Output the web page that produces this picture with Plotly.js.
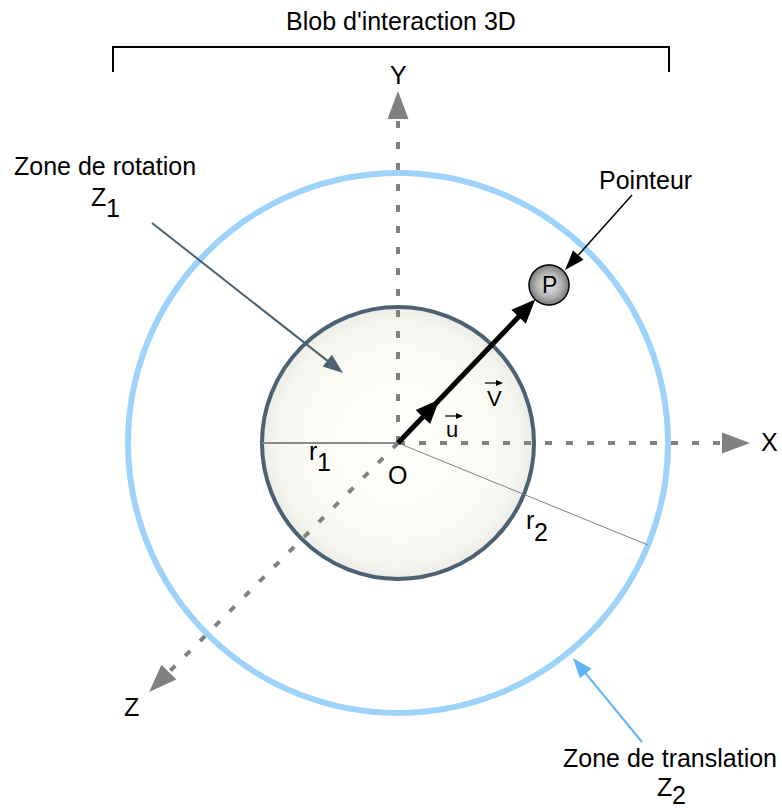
<!DOCTYPE html>
<html>
<head>
<meta charset="utf-8">
<script src="https://cdn.plot.ly/plotly-3.0.1.min.js"></script>
<style>html,body{margin:0;padding:0;background:#fff;}#chart{width:782px;height:808px;}</style>
</head>
<body>
<div id="chart"></div>
<script>
// ---- data (diagram units, origin O, y up) ----
const titleText = "Blob d'interaction 3D";
const zoneNames = ['Zone de rotation', 'Zone de translation'];
const zoneSymbols = ['Z', 'Z'];
const zoneSubs = ['1', '2'];
const zoneRadii = [136, 270];          // r1, r2
const radiusNames = ['r', 'r'];
const radiusSubs = ['1', '2'];
const radiusAngles = [180, -22.2];     // direction of each drawn radius (deg)
const axisNames = ['X', 'Y', 'Z'];
const axisAngles = [0, 90, 225];       // deg
const axisLengths = [352, 352, 352];
const originName = 'O';
const pointerName = 'Pointeur';
const pointerLetter = 'P';
const pointerPolar = [218.6, 46.3];    // distance, angle of P from O
const vectorNames = ['u', 'V'];
const unitVectorLength = [60];

// ---- helpers ----
const FONT = 'Liberation Sans, Arial, Helvetica, sans-serif';
const rad = d => d * Math.PI / 180;
const pol = (r, d) => [r * Math.cos(rad(d)), r * Math.sin(rad(d))];
function head(tip, ang, L, W, color) {
  const d = [Math.cos(rad(ang)), Math.sin(rad(ang))];
  const n = [-d[1], d[0]];
  const b = [tip[0] - L * d[0], tip[1] - L * d[1]];
  const p1 = [b[0] + W / 2 * n[0], b[1] + W / 2 * n[1]];
  const p2 = [b[0] - W / 2 * n[0], b[1] - W / 2 * n[1]];
  return {type: 'path', xref: 'x', yref: 'y', layer: 'above',
    path: `M${tip[0]},${tip[1]} L${p1[0]},${p1[1]} L${p2[0]},${p2[1]} Z`,
    fillcolor: color, line: {width: 0}};
}
function seg(a, b, color, width, dash) {
  return {type: 'line', xref: 'x', yref: 'y', layer: 'above',
    x0: a[0], y0: a[1], x1: b[0], y1: b[1],
    line: {color: color, width: width, dash: dash || 'solid'}};
}
function ring(r, cx, cy, color, width) {
  return {type: 'circle', xref: 'x', yref: 'y', layer: 'above',
    x0: cx - r, x1: cx + r, y0: cy - r, y1: cy + r,
    line: {color: color, width: width}, fillcolor: 'rgba(0,0,0,0)'};
}
function arrowBetween(from, tip, color, width, L, W) {
  const ang = Math.atan2(tip[1] - from[1], tip[0] - from[0]) * 180 / Math.PI;
  const d = [Math.cos(rad(ang)), Math.sin(rad(ang))];
  const end = [tip[0] - (L - 2) * d[0], tip[1] - (L - 2) * d[1]];
  return [seg(from, end, color, width), head(tip, ang, L, W, color)];
}
function txt(x, y, t, size, extra) {
  return Object.assign({x: x, y: y, xref: 'x', yref: 'y', text: t, showarrow: false,
    xanchor: 'center', yanchor: 'middle', font: {family: FONT, size: size, color: '#000'}}, extra || {});
}
function circlePts(r, cx, cy) {
  const xs = [], ys = [];
  for (let i = 0; i <= 720; i++) {
    const a = 2 * Math.PI * i / 720;
    xs.push(cx + r * Math.cos(a)); ys.push(cy + r * Math.sin(a));
  }
  return [xs, ys];
}

const traces = [];
const shapes = [];
const ann = [];

// inner zone fill (gradient)
const inner = circlePts(zoneRadii[0], 0, 0);
traces.push({x: inner[0], y: inner[1], type: 'scatter', mode: 'lines', fill: 'toself',
  fillgradient: {type: 'radial', colorscale: [[0, '#fefefb'], [0.65, '#fcfbf5'], [0.9, '#f5f5f0'], [1, '#ebebe7']]},
  line: {width: 0, simplify: false}, hoverinfo: 'skip', showlegend: false});

// zone outlines
shapes.push(ring(zoneRadii[1], 0, 0, '#9dd3fb', 6));
shapes.push(ring(zoneRadii[0], 0, 0, '#4c6272', 4));

// radii lines
shapes.push(seg([0, 0], pol(zoneRadii[0], radiusAngles[0]), '#8a8a8a', 2));
shapes.push(seg([0, 0], pol(zoneRadii[1], radiusAngles[1]), '#808080', 1));

// axes (dashed) with heads
const AX = '#808080';
axisAngles.forEach((a, i) => {
  const L = 28;
  shapes.push(seg([0, 0], pol(axisLengths[i] - L, a), AX, 4, '7px,14px'));
  shapes.push(head(pol(axisLengths[i], a), a, L, 21, AX));
});

// vector O -> P
const ballR = 20;
const vEnd = pol(pointerPolar[0] - ballR, pointerPolar[1]);
shapes.push(seg([0, 0], pol(pointerPolar[0] - ballR - 18, pointerPolar[1]), '#000', 5));
shapes.push(head(vEnd, pointerPolar[1], 24, 20, '#000'));
shapes.push(head(pol(unitVectorLength[0], pointerPolar[1]), pointerPolar[1], 24, 20, '#000'));

// pointer ball
const P = pol(pointerPolar[0], pointerPolar[1]);
const ball = circlePts(ballR, P[0], P[1]);
traces.push({x: ball[0], y: ball[1], type: 'scatter', mode: 'lines', fill: 'toself',
  fillgradient: {type: 'radial', colorscale: [[0, '#e4e4e4'], [0.6, '#b6b6b6'], [1, '#7a7a7a']]},
  line: {color: '#000', width: 1.5, simplify: false}, hoverinfo: 'skip', showlegend: false});

// bracket
shapes.push(seg([-285, 396], [271, 396], '#000', 2));
shapes.push(seg([-285, 397], [-285, 371], '#000', 2));
shapes.push(seg([271, 397], [271, 371], '#000', 2));

// callout arrows
arrowBetween([-246, 220], [-55, 70], '#4c6272', 2, 20, 15).forEach(s => shapes.push(s));
arrowBetween([234, 248], [167, 173], '#000', 1.5, 20, 14).forEach(s => shapes.push(s));
arrowBetween([244, -299], [175, -215], '#5fb4f6', 2, 20, 15).forEach(s => shapes.push(s));

// small vector arrows over u and V
arrowBetween([47, 27], [65, 27], '#000', 1.2, 7, 6).forEach(s => shapes.push(s));
arrowBetween([87, 60], [105, 60], '#000', 1.2, 7, 6).forEach(s => shapes.push(s));

// texts
const FS = 25;
ann.push(txt(3, 422, titleText, FS));
ann.push(txt(0, 368, axisNames[1], FS));
ann.push(txt(371, 1, axisNames[0], FS));
ann.push(txt(-267, -264, axisNames[2], FS));
ann.push(txt(-1, -32, originName, FS));
ann.push(txt(-293, 277, zoneNames[0], FS));
ann.push(txt(-300, 246, zoneSymbols[0], FS));
ann.push(txt(-285, 235, zoneSubs[0], FS));
ann.push(txt(247, 263, pointerName, FS));
ann.push(txt(272, -315, zoneNames[1], FS));
ann.push(txt(266, -344, zoneSymbols[1], FS));
ann.push(txt(281, -352, zoneSubs[1], FS));
ann.push(txt(-85, -8, radiusNames[0], FS));
ann.push(txt(-74, -19, radiusSubs[0], FS));
ann.push(txt(132, -77, radiusNames[1], FS));
ann.push(txt(143, -89, radiusSubs[1], FS));
ann.push(txt(54, 14, vectorNames[0], 22));
ann.push(txt(96, 45, vectorNames[1], 22));
ann.push(txt(P[0], P[1], pointerLetter, 23));

const layout = {
  width: 782, height: 808,
  margin: {l: 0, r: 0, t: 0, b: 0},
  paper_bgcolor: '#fff', plot_bgcolor: '#fff',
  xaxis: {range: [-398, 384], visible: false, fixedrange: true},
  yaxis: {range: [-365, 443], visible: false, fixedrange: true},
  showlegend: false,
  shapes: shapes,
  annotations: ann
};
Plotly.newPlot('chart', traces, layout, {staticPlot: true, displayModeBar: false});
</script>
</body>
</html>
